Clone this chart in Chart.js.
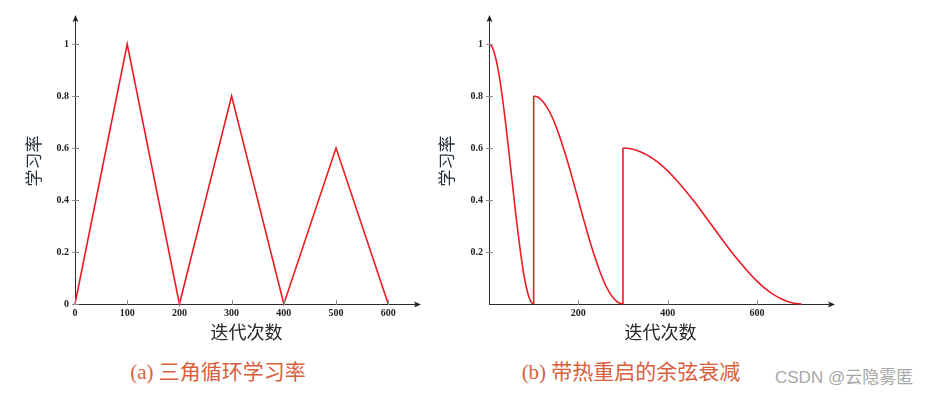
<!DOCTYPE html>
<html>
<head>
<meta charset="utf-8">
<script src="https://cdn.jsdelivr.net/npm/chart.js@4/dist/chart.umd.min.js"></script>
<style>
  html, body { margin: 0; padding: 0; background: #ffffff; }
  body { width: 926px; height: 396px; position: relative; overflow: hidden; }
  .box { position: absolute; top: 0; height: 350px; }
  .cap { position: absolute; width: 400px; text-align: center; line-height: 1;
         font-family: "Liberation Serif", "Noto Sans CJK SC", serif; font-size: 21px; color: #d9603c; top: 362px; }
  .wm { position: absolute; left: 775px; top: 369px; line-height: 1; font-size: 17px;
        font-family: "Liberation Sans", "Noto Sans CJK SC", sans-serif; color: #a8a8a8; }
</style>
</head>
<body>
<div class="box" style="left:0px;width:430px;"><canvas id="c1" width="430" height="350"></canvas></div>
<div class="box" style="left:430px;width:496px;"><canvas id="c2" width="496" height="350"></canvas></div>
<div class="cap" style="left:18px;">(a) 三角循环学习率</div>
<div class="cap" style="left:431px;">(b) 带热重启的余弦衰减</div>
<div class="wm">CSDN @云隐雾匿</div>
<script>
// ---------- data ----------
// (a) triangular cyclic learning rate
const triIter = [0, 100, 200, 300, 400, 500, 600];
const triLR   = [0, 1, 0, 0.8, 0, 0.6, 0];
const triXTicks = [0, 100, 200, 300, 400, 500, 600];
const triYTicks = [0, 0.2, 0.4, 0.6, 0.8, 1];

// (b) cosine decay with warm restarts
const cos1Iter = [0, 5, 10, 15, 20, 25, 30, 35, 40, 45, 50, 55, 60, 65, 70, 75, 80, 85, 90, 95, 100];
const cos1LR   = [1, 0.994, 0.976, 0.946, 0.905, 0.854, 0.794, 0.727, 0.655, 0.578, 0.5,
                  0.422, 0.345, 0.273, 0.206, 0.146, 0.095, 0.054, 0.024, 0.006, 0];
const cos2Iter = [100, 110, 120, 130, 140, 150, 160, 170, 180, 190, 200,
                  210, 220, 230, 240, 250, 260, 270, 280, 290, 300];
const cos2LR   = [0.8, 0.795, 0.78, 0.756, 0.724, 0.683, 0.635, 0.582, 0.524, 0.463, 0.4,
                  0.337, 0.276, 0.218, 0.165, 0.117, 0.076, 0.044, 0.02, 0.005, 0];
const cos3Iter = [300, 320, 340, 360, 380, 400, 420, 440, 460, 480, 500,
                  520, 540, 560, 580, 600, 620, 640, 660, 680, 700];
const cos3LR   = [0.6, 0.596, 0.585, 0.567, 0.543, 0.512, 0.476, 0.436, 0.393, 0.347, 0.3,
                  0.253, 0.207, 0.164, 0.124, 0.088, 0.057, 0.033, 0.015, 0.004, 0];
const restartIter = [100, 300];
const restartLR   = [0.8, 0.6];
const cosXTicks = [200, 400, 600];
const cosYTicks = [0.2, 0.4, 0.6, 0.8, 1];

const xTitle = '迭代次数';
const yTitle = '学习率';

// ---------- helpers ----------
const RED = 'rgb(236,28,36)';
const zip = (xs, ys) => xs.map((x, i) => ({x: x, y: ys[i]}));

const axisDeco = {
  id: 'axisDeco',
  afterDraw(chart) {
    const {ctx, chartArea: a, scales} = chart;
    ctx.save();
    ctx.strokeStyle = '#8c8c8c';
    ctx.lineWidth = 1;
    scales.x.ticks.forEach(t => {
      const px = Math.round(scales.x.getPixelForValue(t.value)) + 0.5;
      ctx.beginPath(); ctx.moveTo(px, a.bottom - 4); ctx.lineTo(px, a.bottom + 1); ctx.stroke();
    });
    scales.y.ticks.forEach(t => {
      const py = Math.round(scales.y.getPixelForValue(t.value)) + 0.5;
      ctx.beginPath(); ctx.moveTo(a.left - 3, py); ctx.lineTo(a.left + 4, py); ctx.stroke();
    });
    ctx.fillStyle = '#222';
    const L = a.left + 0.5, B = a.bottom + 0.5;
    ctx.beginPath();
    ctx.moveTo(L, a.top - 3); ctx.lineTo(L - 3, a.top + 4); ctx.lineTo(L, a.top + 2.5); ctx.lineTo(L + 3, a.top + 4);
    ctx.closePath(); ctx.fill();
    ctx.beginPath();
    ctx.moveTo(a.right + 3, B); ctx.lineTo(a.right - 4, B - 3); ctx.lineTo(a.right - 2.5, B); ctx.lineTo(a.right - 4, B + 3);
    ctx.closePath(); ctx.fill();
    ctx.restore();
  }
};

const fmt = v => String(v);

function makeOptions(cfg) {
  return {
    responsive: false,
    animation: false,
    events: [],
    layout: { padding: { left: 0, top: 18, right: cfg.padRight, bottom: 0 } },
    plugins: { legend: { display: false }, tooltip: { enabled: false } },
    elements: { point: { radius: 0 } },
    scales: {
      x: {
        type: 'linear', min: cfg.xMin, max: cfg.xMax,
        afterFit: s => { s.height = 46; },
        afterBuildTicks: s => { s.ticks = cfg.xTicks.map(v => ({value: v})); },
        grid: { display: false, drawTicks: false },
        border: { display: true, color: '#2a2a2a', width: 1 },
        ticks: { padding: 3, color: '#222', maxRotation: 0, callback: fmt,
                 font: { family: 'Liberation Serif', size: 10, weight: 'bold' } },
        title: { display: true, text: xTitle, color: '#262626',
                 font: { family: 'Noto Sans CJK SC', size: 18 }, padding: { top: 0, bottom: 7 } }
      },
      y: {
        type: 'linear', min: 0, max: 1.1,
        afterFit: s => { s.width = cfg.yWidth; },
        afterBuildTicks: s => { s.ticks = cfg.yTicks.map(v => ({value: v})); },
        grid: { display: false, drawTicks: false },
        border: { display: true, color: '#2a2a2a', width: 1 },
        ticks: { padding: 6, color: '#222', callback: fmt,
                 font: { family: 'Liberation Serif', size: 10, weight: 'bold' } },
        title: { display: true, text: yTitle, color: '#25303c',
                 font: { family: 'Noto Sans CJK SC', size: 17 }, padding: { top: cfg.yTitlePad, bottom: 0 } }
      }
    }
  };
}

const lineDs = (data, mono) => ({
  data: data, borderColor: RED, borderWidth: 1.6, fill: false, clip: 6,
  tension: mono ? 0.4 : 0, cubicInterpolationMode: mono ? 'monotone' : 'default',
  pointRadius: 0
});

// ---------- chart (a) ----------
new Chart(document.getElementById('c1'), {
  type: 'line',
  data: { datasets: [ lineDs(zip(triIter, triLR), false) ] },
  options: makeOptions({ xMin: 0, xMax: 657, padRight: 12, yWidth: 75, yTitlePad: 23,
                         xTicks: triXTicks, yTicks: triYTicks }),
  plugins: [axisDeco]
});

// ---------- chart (b) ----------
const jumps = restartIter.map((x, i) => lineDs([{x: x, y: 0}, {x: x, y: restartLR[i]}], false));
new Chart(document.getElementById('c2'), {
  type: 'line',
  data: { datasets: [
    lineDs(zip(cos1Iter, cos1LR), true),
    lineDs(zip(cos2Iter, cos2LR), true),
    lineDs(zip(cos3Iter, cos3LR), true),
    ...jumps
  ] },
  options: makeOptions({ xMin: 0, xMax: 768, padRight: 94, yWidth: 59, yTitlePad: 6.5,
                         xTicks: cosXTicks, yTicks: cosYTicks }),
  plugins: [axisDeco]
});
</script>
</body>
</html>
